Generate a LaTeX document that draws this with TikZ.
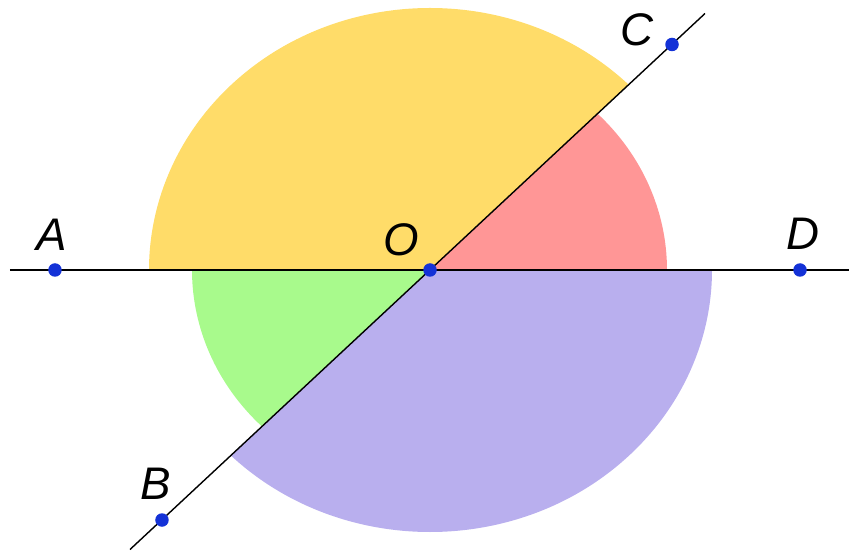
\documentclass[tikz,border=0pt]{standalone}
\usepackage{fontspec}
\setmainfont{Liberation Sans}
\definecolor{amarillo}{RGB}{255,220,105}
\definecolor{rojo}{RGB}{255,150,150}
\definecolor{verde}{RGB}{168,250,140}
\definecolor{morado}{RGB}{185,175,238}
\definecolor{azul}{RGB}{20,50,215}
\begin{document}
\begin{tikzpicture}[
  punto/.style={circle, fill=azul, inner sep=0pt, minimum size=0.27cm},
  letra/.style={font=\fontsize{26}{30}\selectfont\itshape, inner sep=0pt},
  recta/.style={draw=black, line width=0.8pt}
]
\useasboundingbox (-8.6,-5.72) rectangle (8.38,5.4);

\fill[amarillo] (0,0) -- (45:5.62 and 5.24) arc[start angle=45, end angle=180, x radius=5.62, y radius=5.24] -- cycle;
\fill[rojo] (0,0) -- (4.74,0) arc[start angle=0, end angle=45, x radius=4.74, y radius=4.42] -- cycle;
\fill[verde] (0,0) -- (-4.76,0) arc[start angle=180, end angle=225, x radius=4.76, y radius=4.42] -- cycle;
\fill[morado] (0,0) -- (225:5.64 and 5.24) arc[start angle=225, end angle=360, x radius=5.64, y radius=5.24] -- cycle;

\coordinate (izq) at (-8.4,0);
\coordinate (der) at (8.38,0);
\coordinate (abajo) at (-6.0,-5.59);
\coordinate (arriba) at (5.5,5.13);
\draw[recta] (izq) -- (der);
\draw[recta] (abajo) -- (arriba);

\node[punto] (A) at (-7.5,0) {};
\node[punto] (O) at (0,0) {};
\node[punto] (D) at (7.4,0) {};
\node[punto] (C) at (4.84,4.51) {};
\node[punto] (B) at (-5.36,-5.0) {};

\node[letra] (lA) at (-7.56,0.7) {A};
\node[letra] (lO) at (-0.58,0.6) {O};
\node[letra] (lD) at (7.46,0.72) {D};
\node[letra] (lC) at (4.14,4.8) {C};
\node[letra] (lB) at (-5.48,-4.28) {B};
\end{tikzpicture}
\end{document}
